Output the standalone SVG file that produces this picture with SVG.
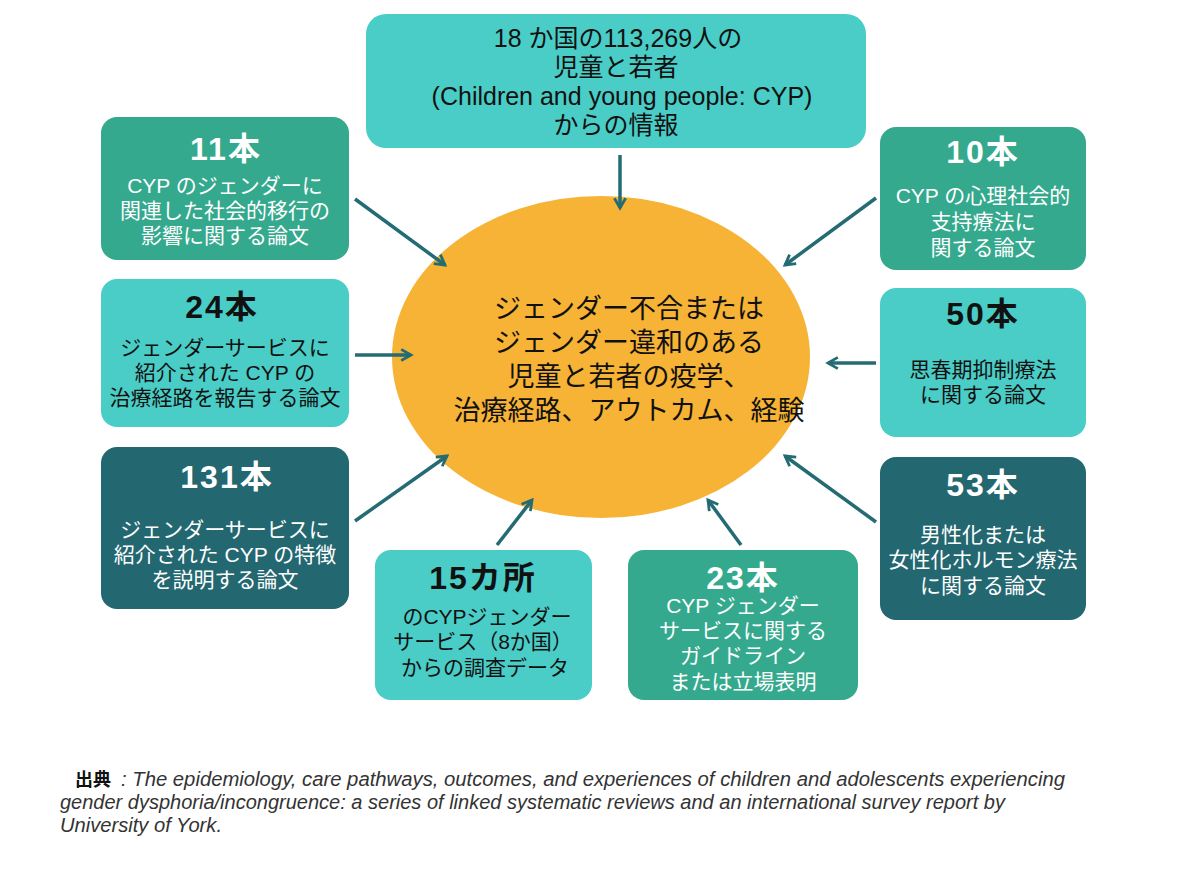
<svg xmlns="http://www.w3.org/2000/svg" width="1200" height="883" viewBox="0 0 1200 883">
<style>
.cy{fill:#49CDC6}.gr{fill:#35A98D}.dk{fill:#236771}
text{font-family:"Liberation Sans","Noto Sans CJK JP",sans-serif;text-anchor:middle}
.t{font-size:32px;font-weight:700;letter-spacing:2px}
.b{font-size:21px}
.w{fill:#fff}.k{fill:#111}
.arr{stroke:#246B74;stroke-width:3.5;fill:none;marker-end:url(#ah)}
</style>
<defs>
<marker id="ah" viewBox="0 0 10 10" refX="8" refY="5" markerWidth="4" markerHeight="4" orient="auto" markerUnits="strokeWidth">
<path d="M1,1 L8,5 L1,9" fill="none" stroke="#246B74" stroke-width="2"/>
</marker>
</defs>
<rect width="1200" height="883" fill="#fff"/>
<g id="center">
<ellipse cx="601" cy="357" rx="209" ry="161" fill="#F6B335"/>
<text class="k" font-size="27"><tspan x="629" y="318">ジェンダー不合または</tspan><tspan x="629" y="352">ジェンダー違和のある</tspan><tspan x="629" y="386">児童と若者の疫学、</tspan><tspan x="629" y="420">治療経路、アウトカム、経験</tspan></text>
</g>
<g id="top">
<rect class="cy" x="366" y="14" width="500" height="134" rx="20"/>
<text class="k" font-size="25"><tspan x="618" y="47">18 か国の113,269人の</tspan><tspan x="616" y="76">児童と若者</tspan><tspan x="622" y="105">(Children and young people: CYP)</tspan><tspan x="616" y="134">からの情報</tspan></text>
</g>
<g id="n11">
<rect class="gr" x="101" y="117" width="248" height="143" rx="16"/>
<text class="t w" x="226" y="160">11本</text>
<text class="b w"><tspan x="225" y="193">CYP のジェンダーに</tspan><tspan x="225" y="218">関連した社会的移行の</tspan><tspan x="225" y="243">影響に関する論文</tspan></text>
</g>
<g id="n10">
<rect class="gr" x="880" y="127" width="206" height="143" rx="16"/>
<text class="t w" x="983" y="163">10本</text>
<text class="b w"><tspan x="983" y="203">CYP の心理社会的</tspan><tspan x="983" y="229">支持療法に</tspan><tspan x="983" y="255">関する論文</tspan></text>
</g>
<g id="n24">
<rect class="cy" x="101" y="279" width="248" height="148" rx="16"/>
<text class="t k" x="222" y="318">24本</text>
<text class="b k"><tspan x="225" y="355">ジェンダーサービスに</tspan><tspan x="225" y="380">紹介された CYP の</tspan><tspan x="225" y="405">治療経路を報告する論文</tspan></text>
</g>
<g id="n50">
<rect class="cy" x="880" y="288" width="206" height="149" rx="16"/>
<text class="t k" x="983" y="325">50本</text>
<text class="b k"><tspan x="983" y="377">思春期抑制療法</tspan><tspan x="983" y="402">に関する論文</tspan></text>
</g>
<g id="n131">
<rect class="dk" x="101" y="447" width="248" height="162" rx="16"/>
<text class="t w" x="227" y="488">131本</text>
<text class="b w"><tspan x="225" y="537">ジェンダーサービスに</tspan><tspan x="225" y="562">紹介された CYP の特徴</tspan><tspan x="225" y="587">を説明する論文</tspan></text>
</g>
<g id="n53">
<rect class="dk" x="880" y="457" width="206" height="163" rx="16"/>
<text class="t w" x="983" y="496">53本</text>
<text class="b w"><tspan x="983" y="542">男性化または</tspan><tspan x="983" y="567">女性化ホルモン療法</tspan><tspan x="983" y="593">に関する論文</tspan></text>
</g>
<g id="n15">
<rect class="cy" x="375" y="550" width="217" height="150" rx="16"/>
<text class="t k" x="483" y="589">15カ所</text>
<text class="b k"><tspan x="487" y="624">のCYPジェンダー</tspan><tspan x="483" y="649">サービス（8か国）</tspan><tspan x="485" y="675">からの調査データ</tspan></text>
</g>
<g id="n23">
<rect class="gr" x="628" y="550" width="230" height="150" rx="16"/>
<text class="t w" x="743" y="589">23本</text>
<text class="b w"><tspan x="743" y="613">CYP ジェンダー</tspan><tspan x="743" y="638">サービスに関する</tspan><tspan x="743" y="663">ガイドライン</tspan><tspan x="743" y="689">または立場表明</tspan></text>
</g>
<g id="connectors">
<line class="arr" x1="620" y1="155" x2="620" y2="208"/>
<line class="arr" x1="355" y1="199" x2="445" y2="265"/>
<line class="arr" x1="876" y1="198" x2="785" y2="265"/>
<line class="arr" x1="355" y1="355" x2="411" y2="355"/>
<line class="arr" x1="876" y1="363" x2="828" y2="363"/>
<line class="arr" x1="355" y1="521" x2="447" y2="456"/>
<line class="arr" x1="876" y1="522" x2="785" y2="456"/>
<line class="arr" x1="497" y1="545" x2="532" y2="500"/>
<line class="arr" x1="741" y1="545" x2="708" y2="500"/>
</g>
<g id="footer">
<text x="75" y="786" style="text-anchor:start;font-size:18px;font-weight:700" fill="#111">出典</text>
<text style="text-anchor:start;font-style:italic;font-size:20px" fill="#333"><tspan x="121" y="786" textLength="944" lengthAdjust="spacingAndGlyphs">: The epidemiology, care pathways, outcomes, and experiences of children and adolescents experiencing</tspan><tspan x="60" y="809" textLength="945" lengthAdjust="spacingAndGlyphs">gender dysphoria/incongruence: a series of linked systematic reviews and an international survey report by</tspan><tspan x="60" y="832" textLength="162" lengthAdjust="spacingAndGlyphs">University of York.</tspan></text>
</g>
</svg>
